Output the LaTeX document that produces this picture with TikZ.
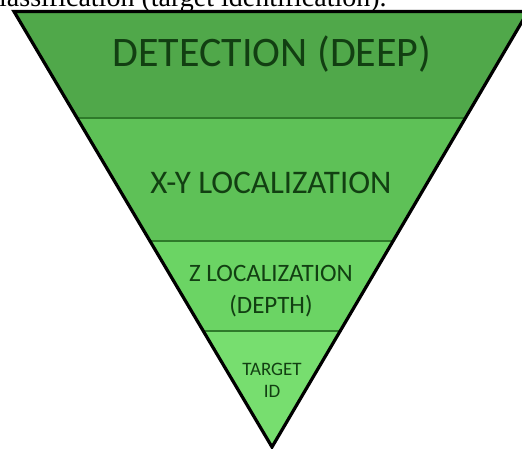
\documentclass[tikz,border=0pt]{standalone}
\usepackage{fontspec}
\setmainfont{Liberation Serif}
\newfontfamily\bandfont{Carlito}
\definecolor{bandA}{HTML}{50A84A}
\definecolor{bandB}{HTML}{5EC157}
\definecolor{bandC}{HTML}{6BD464}
\definecolor{bandD}{HTML}{77DE6F}
\definecolor{divline}{HTML}{2E7A2A}
\definecolor{bandtext}{HTML}{123F12}
\begin{document}
\begin{tikzpicture}[x=1pt,y=-1pt,
  bandlabel/.style={text=bandtext,align=center,inner sep=0pt}]
\useasboundingbox (0,0) rectangle (522,448);
\begin{scope}
\clip (0,0) rectangle (522,448);
\node[anchor=base west,inner sep=0pt,font=\fontsize{28}{30}\selectfont] (cap) at (-1,6) {lassification (target identification).};
\begin{scope}
\clip (14,11.5) -- (528,11.5) -- (272,447) -- cycle;
\fill[bandA] (0,0) rectangle (540,118);
\fill[bandB] (0,118) rectangle (540,241);
\fill[bandC] (0,241) rectangle (540,331);
\fill[bandD] (0,331) rectangle (540,448);
\draw[divline,line width=1.6pt] (0,118) -- (540,118);
\draw[divline,line width=1.6pt] (0,241) -- (540,241);
\draw[divline,line width=1.6pt] (0,331) -- (540,331);
\end{scope}
\draw[black,line width=3.2pt,line join=miter] (14,11.5) -- (528,11.5) -- (272,447) -- cycle;
\end{scope}
\node[bandlabel,font=\bandfont\fontsize{42}{44}\selectfont] (det) at (272,54) {DETECTION (DEEP)};
\node[bandlabel,font=\bandfont\fontsize{33}{35}\selectfont] (xy) at (271,183) {X-Y LOCALIZATION};
\node[bandlabel,font=\bandfont\fontsize{25}{32}\selectfont] (z) at (271,291) {Z LOCALIZATION\\(DEPTH)};
\node[bandlabel,font=\bandfont\fontsize{19}{22}\selectfont] (tid) at (272,380) {TARGET\\ID};
\end{tikzpicture}
\end{document}
